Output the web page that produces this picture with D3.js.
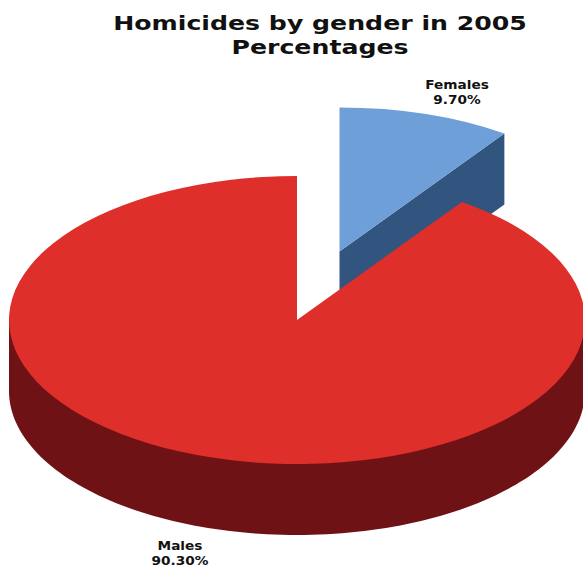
<!DOCTYPE html>
<html>
<head>
<meta charset="utf-8">
<script src="https://cdn.jsdelivr.net/npm/d3@7"></script>
<style>
  html, body { margin: 0; padding: 0; background: #fff; overflow: hidden; }
  text { font-family: "DejaVu Sans", Verdana, sans-serif; font-weight: 700; fill: #111; text-anchor: middle; }
</style>
</head>
<body>
<script>
// Chart content
const titleLines = ["Homicides by gender in 2005", "Percentages"];
const categories = ["Females", "Males"];
const shares = [9.7, 90.3];
const topColors = ["#6e9fd8", "#de2f2a"];
const sideColors = ["#32557f", "#6e1216"];

// Layout of the tilted pie
const width = 583, height = 568;
const radiusX = 288, tilt = 0.5, depth = 71;
const centres = [[339.5, 251.5], [297, 320]];
const labelAnchors = [[457, 89], [180, 550]];

const svg = d3.select("body").append("svg")
  .attr("width", width).attr("height", height)
  .style("display", "block");

const slices = d3.pie().sort(null).value(d => d)(shares);
const arc = d3.arc().innerRadius(0).outerRadius(radiusX);
const outline = d3.line();

// A point on the rim of the tilted disc for a given pie angle
const rim = (a, [cx, cy], drop = 0) => [
  cx + radiusX * Math.sin(a),
  cy - radiusX * tilt * Math.cos(a) + drop
];

// Extruded wall under the front half of a slice; its top closes as a chord
// behind the slice's top face
function frontWall(s, c) {
  const a0 = Math.max(s.startAngle, Math.PI / 2);
  const a1 = Math.min(s.endAngle, 3 * Math.PI / 2);
  if (a1 <= a0) return null;
  const angles = d3.range(0, 121).map(i => a0 + (a1 - a0) * i / 120);
  return outline([
    rim(a0, c),
    ...angles.map(a => rim(a, c, depth)),
    rim(a1, c)
  ]) + "Z";
}

// Cut face running from the centre to the slice's trailing edge
function cutFace(s, c) {
  const [cx, cy] = c;
  const p = rim(s.endAngle, c);
  return outline([[cx, cy], p, [p[0], p[1] + depth], [cx, cy + depth]]) + "Z";
}

const layers = svg.selectAll("g.slice").data(slices).join("g").attr("class", "slice");

layers.filter((d, i) => i === 0).append("path")
  .attr("d", d => cutFace(d, centres[0]))
  .attr("fill", sideColors[0]);

layers.append("path")
  .attr("d", (d, i) => frontWall(d, centres[i]))
  .attr("fill", (d, i) => sideColors[i]);

layers.append("path")
  .attr("d", arc)
  .attr("transform", (d, i) => `translate(${centres[i]}) scale(1,${tilt})`)
  .attr("fill", (d, i) => topColors[i]);

// Title, set in a widened bold face
svg.selectAll("text.title").data(titleLines).join("text")
  .attr("class", "title")
  .attr("transform", (d, i) => `translate(320,${30 + i * 24}) scale(1.26,1)`)
  .attr("font-size", 20)
  .text(d => d);

// Slice labels
const pct = d3.format(".2f");
const labels = svg.selectAll("g.label").data(categories).join("g")
  .attr("class", "label")
  .attr("transform", (d, i) => `translate(${labelAnchors[i]}) scale(1.14,1)`)
  .attr("font-size", 12);
labels.append("text").text(d => d);
labels.append("text").attr("y", 15).text((d, i) => pct(shares[i]) + "%");
</script>
</body>
</html>
